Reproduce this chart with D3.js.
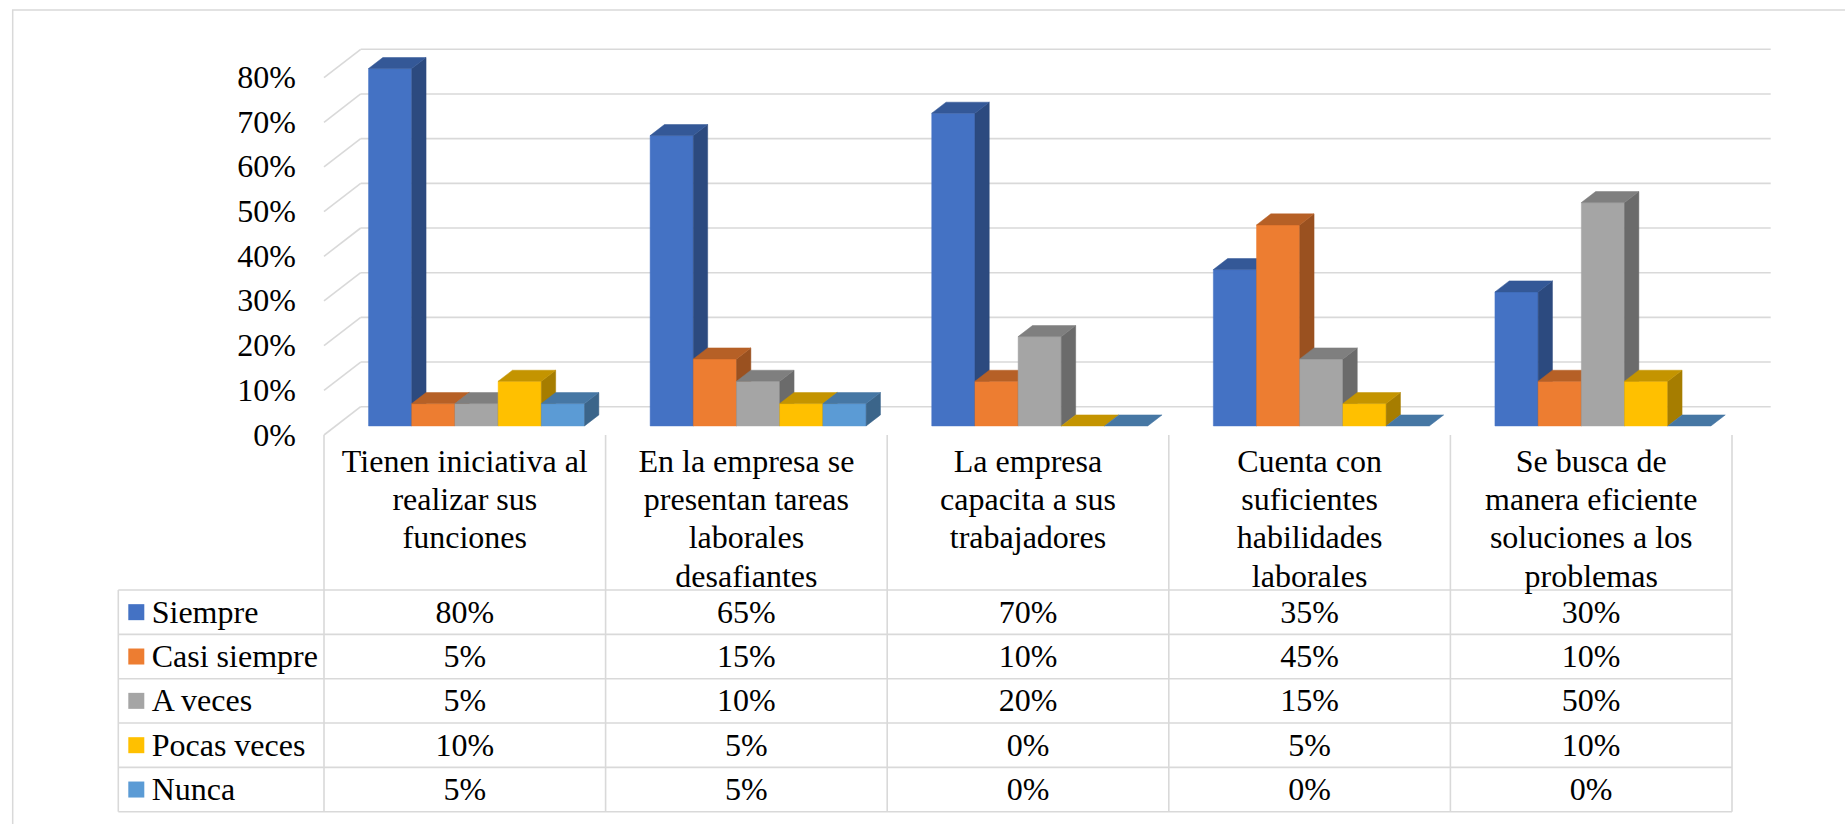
<!DOCTYPE html>
<html>
<head>
<meta charset="utf-8">
<script src="https://cdn.jsdelivr.net/npm/d3@7"></script>
<style>
  html, body { margin: 0; padding: 0; background: #ffffff; }
  svg { display: block; }
</style>
</head>
<body>
<svg id="chart" width="1845" height="824"></svg>
<script>
// ---- data ----
const categories = [
  ["Tienen iniciativa al", "realizar sus", "funciones"],
  ["En la empresa se", "presentan tareas", "laborales", "desafiantes"],
  ["La empresa", "capacita a sus", "trabajadores"],
  ["Cuenta con", "suficientes", "habilidades", "laborales"],
  ["Se busca de", "manera eficiente", "soluciones a los", "problemas"]
];
const seriesNames = ["Siempre", "Casi siempre", "A veces", "Pocas veces", "Nunca"];
const siempre     = [80, 65, 70, 35, 30];
const casiSiempre = [5, 15, 10, 45, 10];
const aVeces      = [5, 10, 20, 15, 50];
const pocasVeces  = [10, 5, 0, 5, 10];
const nunca       = [5, 5, 0, 0, 0];
const seriesValues = [siempre, casiSiempre, aVeces, pocasVeces, nunca];
const seriesColors = ["#4472C4", "#ED7D31", "#A5A5A5", "#FFC000", "#5B9BD5"];
const yTicks = [0, 10, 20, 30, 40, 50, 60, 70, 80];

// ---- layout ----
const svg = d3.select("#chart");
const FF = "'Liberation Serif'";
const FONT = 32;
const plotLeft = 324, plotRight = 1732;
const DX = 36.7, DY = 28.3;           // depth of the 3D box
const T0 = 0.32, T1 = 0.71;           // bar front / back depth fraction
const groupW = 216;
const gridColor = "#D9D9D9";

const x = d3.scaleBand().domain(d3.range(categories.length)).range([plotLeft, plotRight]);
const xs = d3.scaleBand().domain(seriesNames).range([0, groupW]);
const y = d3.scaleLinear().domain([0, 80]).range([435, 77.6]);

function txt(sel, xx, yy, s, anchor) {
  return sel.append("text").attr("x", xx).attr("y", yy)
    .attr("font-family", FF).attr("font-size", FONT).attr("fill", "#000")
    .attr("text-anchor", anchor || "start").text(s);
}

// outer chart border
svg.append("rect").attr("x", 12.7).attr("y", 10).attr("width", 1900).attr("height", 900)
  .attr("fill", "none").attr("stroke", gridColor).attr("stroke-width", 1.5);

// back wall gridlines + side wall diagonals
const grid = svg.append("g").attr("stroke", gridColor).attr("stroke-width", 1.6).attr("fill", "none");
yTicks.forEach(t => {
  grid.append("line")
    .attr("x1", plotLeft + DX).attr("x2", plotRight + DX + 2)
    .attr("y1", y(t) - DY).attr("y2", y(t) - DY);
  grid.append("line")
    .attr("x1", plotLeft).attr("y1", y(t))
    .attr("x2", plotLeft + DX).attr("y2", y(t) - DY);
});

// y tick labels
const yl = svg.append("g");
yTicks.forEach(t => txt(yl, 296, y(t) + 10.5, t + "%", "end"));

// bars
const shade = (c, f) => { const r = d3.rgb(c); return d3.rgb(r.r * f, r.g * f, r.b * f).formatHex(); };
const bars = svg.append("g");
const ox0 = T0 * DX, oy0 = T0 * DY;
const bdx = (T1 - T0) * DX, bdy = (T1 - T0) * DY;
categories.forEach((cat, ci) => {
  const gx = x(ci) + (x.bandwidth() - groupW) / 2 + ox0;
  seriesNames.forEach((s, si) => {
    const v = seriesValues[si][ci];
    const col = seriesColors[si];
    const xl = gx + xs(s), xr = xl + xs.bandwidth();
    const yt = y(v) - oy0, yb = y(0) - oy0;
    const g = bars.append("g");
    if (v > 0) {
      g.append("path").attr("d", `M${xl},${yt}L${xr},${yt}L${xr},${yb}L${xl},${yb}Z`)
        .attr("fill", col).attr("stroke", col).attr("stroke-width", 0.5);
      g.append("path").attr("d", `M${xr},${yt}L${xr + bdx},${yt - bdy}L${xr + bdx},${yb - bdy}L${xr},${yb}Z`)
        .attr("fill", shade(col, 0.65)).attr("stroke", shade(col, 0.65)).attr("stroke-width", 0.5);
    }
    g.append("path").attr("d", `M${xl},${yt}L${xr},${yt}L${xr + bdx},${yt - bdy}L${xl + bdx},${yt - bdy}Z`)
      .attr("fill", shade(col, 0.77)).attr("stroke", shade(col, 0.77)).attr("stroke-width", 0.5);
  });
});

// data table
const rowTop = 590, rowH = 44.34, nRows = seriesNames.length;
const tableBottom = rowTop + rowH * nRows;
const legendLeft = 118.3;
const tg = svg.append("g").attr("stroke", gridColor).attr("stroke-width", 1.6);
d3.range(categories.length + 1).forEach(i => {
  const xx = i < categories.length ? x(i) : plotRight;
  tg.append("line").attr("x1", xx).attr("x2", xx).attr("y1", 435).attr("y2", tableBottom);
});
tg.append("line").attr("x1", legendLeft).attr("x2", legendLeft).attr("y1", rowTop).attr("y2", tableBottom);
d3.range(nRows + 1).forEach(r => {
  const yy = rowTop + r * rowH;
  tg.append("line").attr("x1", legendLeft).attr("x2", plotRight).attr("y1", yy).attr("y2", yy);
});

// category labels
const labels = svg.append("g");
categories.forEach((lines, ci) => {
  const cx = x(ci) + x.bandwidth() / 2;
  lines.forEach((ln, li) => txt(labels, cx, 472 + li * 38.2, ln, "middle"));
});

// legend keys + values
const rows = svg.append("g");
seriesNames.forEach((s, si) => {
  const cy = rowTop + si * rowH + rowH / 2;
  rows.append("rect").attr("x", 128.3).attr("y", cy - 8).attr("width", 16).attr("height", 16)
    .attr("fill", seriesColors[si]);
  txt(rows, 151.7, cy + 10.5, s);
  categories.forEach((c, ci) => {
    txt(rows, x(ci) + x.bandwidth() / 2, cy + 10.5, seriesValues[si][ci] + "%", "middle");
  });
});
</script>
</body>
</html>
